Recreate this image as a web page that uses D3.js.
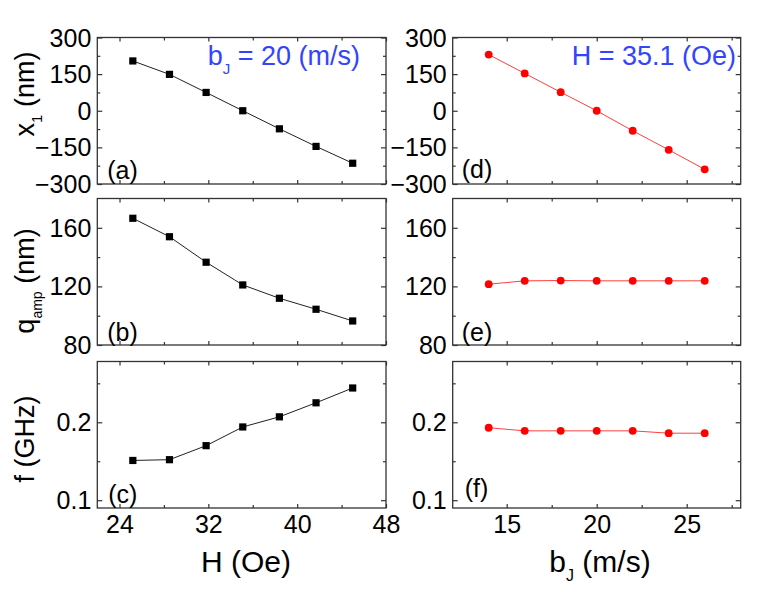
<!DOCTYPE html>
<html><head><meta charset="utf-8">
<script src="https://cdn.jsdelivr.net/npm/d3@7"></script>
<style>
body{margin:0;background:#fff;}
text{font-family:"Liberation Sans",Arial,Helvetica,sans-serif;}
</style></head>
<body><svg id="c" width="762" height="592"></svg>
<script>
// ---- data ----
const H_vals = [25.2, 28.5, 31.8, 35.1, 38.4, 41.7, 45.0];
const x1_vs_H = [204, 149, 75, 0, -74, -146, -215];
const qamp_vs_H = [166.5, 153.9, 136.5, 121, 111.9, 104.4, 96.4];
const f_vs_H = [0.151, 0.152, 0.170, 0.194, 0.207, 0.225, 0.244];

const bJ_vals = [14, 16, 18, 20, 22, 24, 26];
const x1_vs_bJ = [230, 153, 76, 0, -82, -160, -240];
const qamp_vs_bJ = [121.5, 123.8, 124, 123.8, 123.8, 123.8, 123.8];
const f_vs_bJ = [0.193, 0.189, 0.189, 0.189, 0.189, 0.186, 0.186];

const H_ticks = [24, 32, 40, 48];
const H_minor = [28, 36, 44];
const bJ_ticks = [15, 20, 25];
const bJ_minor = [17.5, 22.5, 27.5];
const x1_ticks = [-300, -150, 0, 150, 300];
const x1_minor = [-225, -75, 75, 225];
const q_ticks = [80, 120, 160];
const q_minor = [100, 140];
const f_ticks = [0.1, 0.2];
const f_minor = [0.15, 0.25];

const svg = d3.select("#c");
const frameColor = "#333";

const cols = [
  {x0: 97.3, x1: 386, domain: [22, 48], ticks: H_ticks, minor: H_minor, xs: H_vals, color: "#000", marker: "square",
   series: [x1_vs_H, qamp_vs_H, f_vs_H], labels: ["(a)", "(b)", "(c)"]},
  {x0: 452.7, x1: 740.7, domain: [12, 28], ticks: bJ_ticks, minor: bJ_minor, xs: bJ_vals, color: "#ff0000", marker: "circle",
   series: [x1_vs_bJ, qamp_vs_bJ, f_vs_bJ], labels: ["(d)", "(e)", "(f)"]}
];
const rows = [
  {y0: 37.5, domain: [-300, 300], ticks: x1_ticks, minor: x1_minor, fmt: d3.format("d")},
  {y0: 198.5, domain: [80, 180], ticks: q_ticks, minor: q_minor, fmt: d3.format("d")},
  {y0: 361.5, domain: [0.09, 0.278], ticks: f_ticks, minor: f_minor, fmt: d3.format(".1f")}
];
const ph = 146.5;
const labelDx = [10, 10, 11, 9, 9, 12];
const labelY = [179, 340.5, 503, 178, 340.5, 497];

cols.forEach((c, ci) => {
  const x = d3.scaleLinear().domain(c.domain).range([c.x0, c.x1]);
  rows.forEach((r, ri) => {
    const y = d3.scaleLinear().domain(r.domain).range([r.y0 + ph, r.y0]);
    const g = svg.append("g");
    const styleAxis = sel => {
      sel.select(".domain").remove();
      sel.selectAll("line").attr("stroke", frameColor).attr("stroke-width", 1.2);
      sel.selectAll("text").attr("fill", "#000").style("font-size", "25px")
        .style("font-family", '"Liberation Sans",Arial,sans-serif');
    };
    g.append("g").attr("transform", `translate(${c.x0},0)`)
      .call(d3.axisLeft(y).tickValues(r.ticks).tickSize(-5).tickPadding(6).tickFormat(r.fmt)).call(styleAxis)
      .selectAll("text").attr("dy", "0.34em");
    g.append("g").attr("transform", `translate(${c.x0},0)`)
      .call(d3.axisLeft(y).tickValues(r.minor).tickSize(-3).tickFormat("")).call(styleAxis);
    g.append("g").attr("transform", `translate(${c.x1},0)`)
      .call(d3.axisRight(y).tickValues(r.ticks).tickSize(-5).tickFormat("")).call(styleAxis);
    g.append("g").attr("transform", `translate(${c.x1},0)`)
      .call(d3.axisRight(y).tickValues(r.minor).tickSize(-3).tickFormat("")).call(styleAxis);
    const isBottom = ri === rows.length - 1;
    const bx = g.append("g").attr("transform", `translate(0,${r.y0 + ph})`)
      .call(d3.axisBottom(x).tickValues(c.ticks).tickSize(-4).tickPadding(6)
        .tickFormat(isBottom ? d3.format("d") : "")).call(styleAxis);
    bx.selectAll("text").attr("dy", "0.76em");
    g.append("g").attr("transform", `translate(0,${r.y0 + ph})`)
      .call(d3.axisBottom(x).tickValues(c.minor).tickSize(-3).tickFormat("")).call(styleAxis);
    g.append("g").attr("transform", `translate(0,${r.y0})`)
      .call(d3.axisTop(x).tickValues(c.ticks).tickSize(-4).tickFormat("")).call(styleAxis);
    g.append("g").attr("transform", `translate(0,${r.y0})`)
      .call(d3.axisTop(x).tickValues(c.minor).tickSize(-3).tickFormat("")).call(styleAxis);
    g.append("rect").attr("x", c.x0).attr("y", r.y0).attr("width", c.x1 - c.x0).attr("height", ph)
      .attr("fill", "none").attr("stroke", frameColor).attr("stroke-width", 1.3);
    const pts = c.xs.map((v, i) => [v, c.series[ri][i]]);
    const line = d3.line().x(d => x(d[0])).y(d => y(d[1]));
    g.append("path").attr("d", line(pts)).attr("fill", "none")
      .attr("stroke", ci === 0 ? "#222" : "#ff4040").attr("stroke-width", 1);
    if (c.marker === "square") {
      g.selectAll("rect.m").data(pts).join("rect").attr("class", "m")
        .attr("x", d => x(d[0]) - 3.6).attr("y", d => y(d[1]) - 3.6)
        .attr("width", 7.2).attr("height", 7.2).attr("fill", "#000");
    } else {
      g.selectAll("circle.m").data(pts).join("circle").attr("class", "m")
        .attr("cx", d => x(d[0])).attr("cy", d => y(d[1])).attr("r", 3.9).attr("fill", "#ff0000");
    }
    g.append("text").attr("x", c.x0 + labelDx[ci * 3 + ri]).attr("y", labelY[ci * 3 + ri])
      .style("font-size", "25px").attr("fill", "#000").text(c.labels[ri]);
  });
});

// annotations
const blue = "#3344ff";
const t1 = svg.append("text").attr("x", 360).attr("y", 65).attr("text-anchor", "end")
  .attr("fill", blue).style("font-size", "27px");
t1.append("tspan").text("b");
t1.append("tspan").attr("dy", 9).style("font-size", "15px").text("J");
t1.append("tspan").attr("dy", -9).text(" = 20 (m/s)");
svg.append("text").attr("x", 736).attr("y", 65).attr("text-anchor", "end")
  .attr("fill", blue).style("font-size", "27px").text("H = 35.1 (Oe)");

// axis titles
svg.append("text").attr("x", 246).attr("y", 572).attr("text-anchor", "middle")
  .style("font-size", "30px").text("H (Oe)");
const bt = svg.append("text").attr("x", 600).attr("y", 572).attr("text-anchor", "middle")
  .style("font-size", "30px");
bt.append("tspan").text("b");
bt.append("tspan").attr("dy", 9).style("font-size", "16px").text("J");
bt.append("tspan").attr("dy", -9).text(" (m/s)");

function yTitle(cy, parts) {
  const t = svg.append("text").attr("transform", `translate(34,${cy}) rotate(-90)`)
    .attr("text-anchor", "middle").style("font-size", "27px");
  parts.forEach(p => {
    const s = t.append("tspan").text(p.t);
    if (p.sub) s.attr("dy", 8).style("font-size", p.size + "px");
    if (p.back) s.attr("dy", -8);
  });
}
yTitle(94, [{t: "x"}, {t: "1", sub: true, size: 15}, {t: " (nm)", back: true}]);
yTitle(281, [{t: "q"}, {t: "amp", sub: true, size: 14}, {t: " (nm)", back: true}]);
yTitle(439, [{t: "f (GHz)"}]);
</script></body></html>
